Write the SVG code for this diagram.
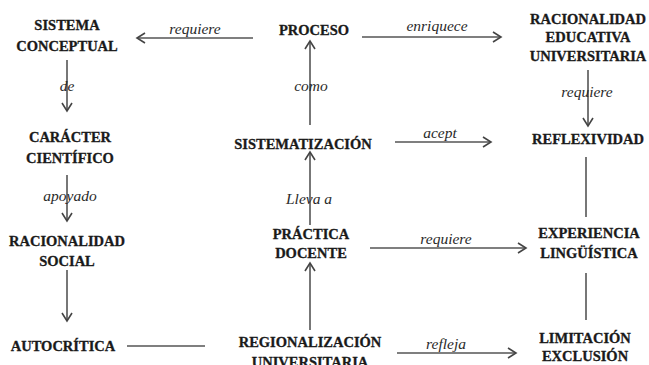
<svg xmlns="http://www.w3.org/2000/svg" width="649" height="365" viewBox="0 0 649 365">
<style>
.n{font-family:"Liberation Serif","Times New Roman",serif;font-weight:bold;font-size:14.5px;fill:#1a1a1a;stroke:#1a1a1a;stroke-width:0.3;text-anchor:middle}
.l{font-family:"Liberation Serif","Times New Roman",serif;font-style:italic;font-size:15.5px;fill:#2a2a2a;text-anchor:middle}
.c{stroke:#555;stroke-width:1.6;fill:none}
</style>
<defs>
<marker id="a" markerUnits="userSpaceOnUse" markerWidth="14" markerHeight="14" refX="9" refY="6" orient="auto">
<path d="M1,1 L9,6 L1,11" fill="none" stroke="#444" stroke-width="1.6"/>
</marker>
</defs>
<rect width="649" height="365" fill="#fff"/>
<g id="connectors">
<line class="c" x1="253" y1="38" x2="137" y2="38" marker-end="url(#a)"/>
<line class="c" x1="362" y1="37" x2="501" y2="37" marker-end="url(#a)"/>
<line class="c" x1="67" y1="60" x2="67" y2="111" marker-end="url(#a)"/>
<line class="c" x1="67" y1="175" x2="67" y2="221" marker-end="url(#a)"/>
<line class="c" x1="67" y1="270" x2="67" y2="321" marker-end="url(#a)"/>
<line class="c" x1="127" y1="346" x2="205" y2="346"/>
<line class="c" x1="310" y1="125" x2="310" y2="41" marker-end="url(#a)"/>
<line class="c" x1="310" y1="225" x2="310" y2="152" marker-end="url(#a)"/>
<line class="c" x1="310" y1="330" x2="310" y2="263" marker-end="url(#a)"/>
<line class="c" x1="588" y1="70" x2="588" y2="126" marker-end="url(#a)"/>
<line class="c" x1="395" y1="142" x2="491" y2="142" marker-end="url(#a)"/>
<line class="c" x1="586" y1="157" x2="586" y2="217"/>
<line class="c" x1="370" y1="248" x2="526" y2="248" marker-end="url(#a)"/>
<line class="c" x1="586" y1="273" x2="586" y2="320"/>
<line class="c" x1="397" y1="353" x2="516" y2="353" marker-end="url(#a)"/>
<text class="l" x="195" y="34">requiere</text>
<text class="l" x="437" y="31">enriquece</text>
<text class="l" x="67" y="91">de</text>
<text class="l" x="70" y="201">apoyado</text>
<text class="l" x="311" y="91">como</text>
<text class="l" x="309" y="204">Lleva a</text>
<text class="l" x="587" y="97">requiere</text>
<text class="l" x="440" y="138">acept</text>
<text class="l" x="446" y="244">requiere</text>
<text class="l" x="446" y="349">refleja</text>
</g>
<g id="sistema-conceptual"><text class="n" x="67" y="30">SISTEMA</text><text class="n" x="67" y="51">CONCEPTUAL</text></g>
<g id="proceso"><text class="n" x="314" y="35">PROCESO</text></g>
<g id="racionalidad-educativa"><text class="n" x="588" y="24">RACIONALIDAD</text><text class="n" x="588" y="42">EDUCATIVA</text><text class="n" x="588" y="61">UNIVERSITARIA</text></g>
<g id="caracter-cientifico"><text class="n" x="70" y="142">CARÁCTER</text><text class="n" x="70" y="163">CIENTÍFICO</text></g>
<g id="sistematizacion"><text class="n" x="303" y="149">SISTEMATIZACIÓN</text></g>
<g id="reflexividad"><text class="n" x="588" y="144">REFLEXIVIDAD</text></g>
<g id="racionalidad-social"><text class="n" x="67" y="246">RACIONALIDAD</text><text class="n" x="67" y="266">SOCIAL</text></g>
<g id="practica-docente"><text class="n" x="311" y="239">PRÁCTICA</text><text class="n" x="311" y="258">DOCENTE</text></g>
<g id="experiencia-linguistica"><text class="n" x="589" y="238">EXPERIENCIA</text><text class="n" x="589" y="258">LINGÜÍSTICA</text></g>
<g id="autocritica"><text class="n" x="63" y="351">AUTOCRÍTICA</text></g>
<g id="regionalizacion"><text class="n" x="310" y="347">REGIONALIZACIÓN</text><text class="n" x="310" y="367">UNIVERSITARIA</text></g>
<g id="limitacion-exclusion"><text class="n" x="585" y="343">LIMITACIÓN</text><text class="n" x="585" y="361">EXCLUSIÓN</text></g>
</svg>
